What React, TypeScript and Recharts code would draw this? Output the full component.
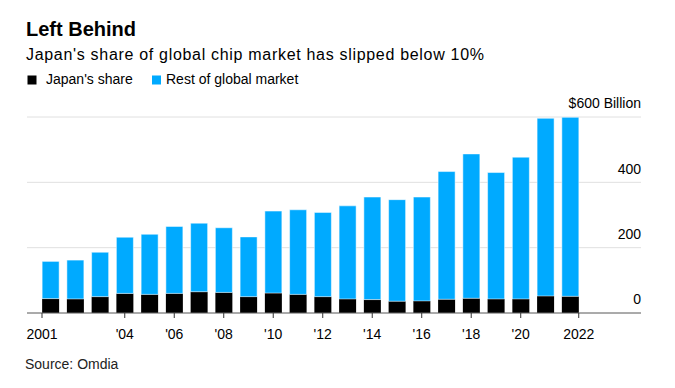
import React from "react";
import { BarChart, Bar, XAxis, YAxis, CartesianGrid } from "recharts";

const years = [2001, 2002, 2003, 2004, 2005, 2006, 2007, 2008, 2009, 2010, 2011, 2012, 2013, 2014, 2015, 2016, 2017, 2018, 2019, 2020, 2021, 2022];
const japanShare = [44, 43, 50, 60, 57, 60, 65, 63, 50, 61, 57, 50, 43, 41, 36, 37, 42, 45, 43, 43, 52, 51];
const restOfMarket = [114, 119, 136, 172, 184, 205, 210, 198, 183, 251, 259, 258, 285, 314, 311, 318, 391, 442, 387, 434, 544, 548];

const xTickValues = [2001, 2004, 2006, 2008, 2010, 2012, 2014, 2016, 2018, 2020, 2022];
const xTickLabels = ["2001", "'04", "'06", "'08", "'10", "'12", "'14", "'16", "'18", "'20", "2022"];
const yTickValues = [0, 200, 400, 600];
const yTickLabels = ["0", "200", "400", "$600 Billion"];

const title = "Left Behind";
const subtitle = "Japan's share of global chip market has slipped below 10%";
const legendJapan = "Japan's share";
const legendRest = "Rest of global market";
const source = "Source: Omdia";

const FONT = "'Liberation Sans', Arial, Helvetica, sans-serif";
const BLUE = "#00aaff";
const BAR_SIZE = 17;

const rows = years.map((y, i) => ({ year: y, japan: japanShare[i], rest: restOfMarket[i] }));

const XTick = (props: any) => {
  const { x, y, payload, index } = props;
  const i = xTickValues.indexOf(payload.value);
  let dx = 0;
  if (i === 0) dx = -BAR_SIZE / 2;
  if (i === xTickValues.length - 1) dx = BAR_SIZE / 2;
  const cx = x + dx;
  return (
    <g>
      <line x1={cx} x2={cx} y1={y} y2={y + 5} stroke="#333" strokeWidth={1} />
      <text x={cx} y={y + 25.5} textAnchor="middle" fontFamily={FONT} fontSize={14} fill="#000">
        {xTickLabels[i >= 0 ? i : index]}
      </text>
    </g>
  );
};

const YTick = (props: any) => {
  const { x, y, payload } = props;
  const i = yTickValues.indexOf(payload.value);
  return (
    <text x={x} y={y - 8.7} textAnchor="end" fontFamily={FONT} fontSize={14} fill="#000">
      {yTickLabels[i]}
    </text>
  );
};

export default function App() {
  return (
    <div style={{ position: "absolute", left: 0, top: 0, width: 675, height: 388, background: "#fff" }}>
      <BarChart
        width={675}
        height={388}
        data={rows}
        margin={{ top: 117, right: 33, bottom: 45, left: 27 }}
      >
        <CartesianGrid horizontal vertical={false} stroke="#e0e0e0" strokeWidth={1} />
        <XAxis
          dataKey="year"
          type="number"
          domain={[2000.05, 2024.86]}
          allowDataOverflow
          ticks={xTickValues}
          interval={0}
          height={30}
          tickSize={0}
          tickMargin={0}
          tickLine={false}
          axisLine={{ stroke: "#666", strokeWidth: 1 }}
          tick={<XTick />}
        />
        <YAxis
          orientation="right"
          domain={[0, 600]}
          ticks={yTickValues}
          interval={0}
          width={1}
          tickSize={0}
          tickMargin={0}
          tickLine={false}
          axisLine={false}
          tick={<YTick />}
        />
        <Bar dataKey="japan" stackId="a" fill="#000" barSize={BAR_SIZE} isAnimationActive={false} />
        <Bar dataKey="rest" stackId="a" fill={BLUE} barSize={BAR_SIZE} isAnimationActive={false} stroke="#ffffff" strokeWidth={0.5} />
      </BarChart>
      <svg
        width={675}
        height={388}
        style={{ position: "absolute", left: 0, top: 0, pointerEvents: "none" }}
      >
        <text x={26} y={36} fontFamily={FONT} fontSize={20} fontWeight="bold" fill="#000">{title}</text>
        <text x={26} y={60} fontFamily={FONT} fontSize={16} fill="#000" textLength={458} lengthAdjust="spacing">{subtitle}</text>
        <rect x={27.5} y={75.5} width={9} height={9} fill="#000" />
        <text x={46} y={84} fontFamily={FONT} fontSize={14} fill="#000">{legendJapan}</text>
        <rect x={152} y={75.5} width={9} height={9} fill={BLUE} />
        <text x={166} y={84} fontFamily={FONT} fontSize={14} fill="#000">{legendRest}</text>
        <text x={25} y={369} fontFamily={FONT} fontSize={14} fill="#222">{source}</text>
      </svg>
    </div>
  );
}
